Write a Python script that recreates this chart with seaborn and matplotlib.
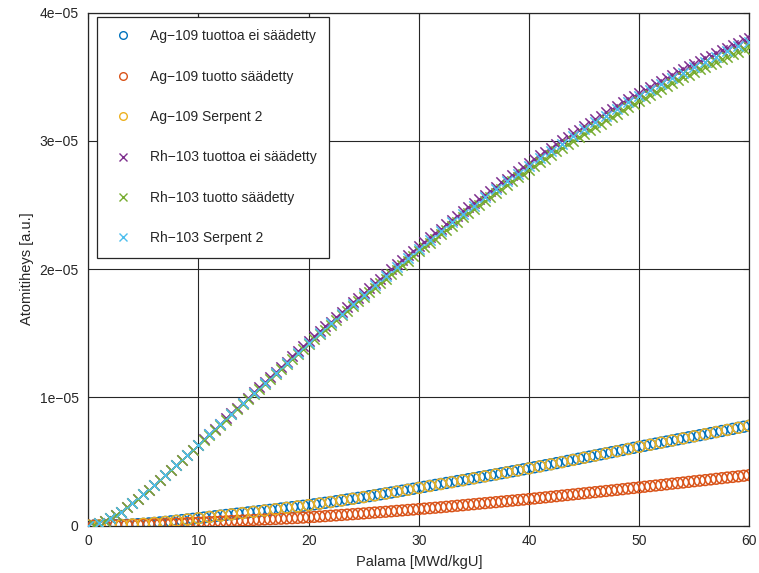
import matplotlib
matplotlib.use("Agg")
import matplotlib.pyplot as plt
from matplotlib.lines import Line2D
import seaborn as sns
import pandas as pd

# Burnup grids [MWd/kgU]: fine step for the yield models, unit step for Serpent 2
burnup_fine = [
    0.0, 0.5, 1.0, 1.5, 2.0, 2.5, 3.0, 3.5, 4.0, 4.5, 5.0, 5.5, 6.0, 6.5, 7.0, 7.5,
    8.0, 8.5, 9.0, 9.5, 10.0, 10.5, 11.0, 11.5, 12.0, 12.5, 13.0, 13.5, 14.0, 14.5,
    15.0, 15.5, 16.0, 16.5, 17.0, 17.5, 18.0, 18.5, 19.0, 19.5, 20.0, 20.5, 21.0,
    21.5, 22.0, 22.5, 23.0, 23.5, 24.0, 24.5, 25.0, 25.5, 26.0, 26.5, 27.0, 27.5,
    28.0, 28.5, 29.0, 29.5, 30.0, 30.5, 31.0, 31.5, 32.0, 32.5, 33.0, 33.5, 34.0,
    34.5, 35.0, 35.5, 36.0, 36.5, 37.0, 37.5, 38.0, 38.5, 39.0, 39.5, 40.0, 40.5,
    41.0, 41.5, 42.0, 42.5, 43.0, 43.5, 44.0, 44.5, 45.0, 45.5, 46.0, 46.5, 47.0,
    47.5, 48.0, 48.5, 49.0, 49.5, 50.0, 50.5, 51.0, 51.5, 52.0, 52.5, 53.0, 53.5,
    54.0, 54.5, 55.0, 55.5, 56.0, 56.5, 57.0, 57.5, 58.0, 58.5, 59.0, 59.5, 60.0,
]
burnup_serpent = [
    0, 1, 2, 3, 4, 5, 6, 7, 8, 9, 10, 11, 12, 13, 14, 15, 16, 17, 18, 19, 20,
    21, 22, 23, 24, 25, 26, 27, 28, 29, 30, 31, 32, 33, 34, 35, 36, 37, 38, 39, 40,
    41, 42, 43, 44, 45, 46, 47, 48, 49, 50, 51, 52, 53, 54, 55, 56, 57, 58, 59, 60,
]

# Atomic densities in units of 1e-5 [a.u.]
ag109_unadjusted = [
    0.0, 0.0001, 0.0005, 0.0012, 0.002, 0.0034, 0.005, 0.007, 0.009, 0.0115, 0.014,
    0.0175, 0.021, 0.025, 0.029, 0.0335, 0.038, 0.043, 0.048, 0.053, 0.058, 0.063,
    0.068, 0.073, 0.078, 0.083, 0.088, 0.093, 0.098, 0.103, 0.108, 0.113, 0.118,
    0.123, 0.128, 0.1335, 0.139, 0.144, 0.149, 0.1545, 0.160, 0.166, 0.172, 0.178,
    0.184, 0.1905, 0.197, 0.2035, 0.210, 0.2165, 0.223, 0.230, 0.237, 0.244, 0.251,
    0.258, 0.265, 0.2725, 0.280, 0.2875, 0.295, 0.3025, 0.310, 0.3175, 0.325, 0.3325,
    0.340, 0.3475, 0.355, 0.3625, 0.370, 0.3775, 0.385, 0.3925, 0.400, 0.408, 0.416,
    0.4235, 0.431, 0.439, 0.447, 0.455, 0.463, 0.471, 0.479, 0.4875, 0.496, 0.5045,
    0.513, 0.5215, 0.530, 0.5385, 0.547, 0.5555, 0.564, 0.5725, 0.581, 0.5895, 0.598,
    0.6065, 0.615, 0.623, 0.631, 0.6395, 0.648, 0.656, 0.664, 0.6725, 0.681, 0.689,
    0.697, 0.705, 0.713, 0.7215, 0.730, 0.738, 0.746, 0.7545, 0.763, 0.771, 0.779,
]
ag109_adjusted = [
    0.0, 0.00005, 0.0002, 0.0005, 0.001, 0.0015, 0.002, 0.003, 0.004, 0.005, 0.006,
    0.0075, 0.009, 0.0105, 0.012, 0.014, 0.016, 0.018, 0.020, 0.022, 0.024, 0.026,
    0.028, 0.030, 0.032, 0.034, 0.036, 0.038, 0.040, 0.042, 0.044, 0.046, 0.048,
    0.050, 0.052, 0.054, 0.056, 0.058, 0.060, 0.0625, 0.065, 0.068, 0.071, 0.074,
    0.077, 0.080, 0.083, 0.086, 0.089, 0.092, 0.095, 0.0985, 0.102, 0.105, 0.108,
    0.1115, 0.115, 0.1185, 0.122, 0.1255, 0.129, 0.1325, 0.136, 0.1395, 0.143, 0.147,
    0.151, 0.155, 0.159, 0.163, 0.167, 0.171, 0.175, 0.179, 0.183, 0.187, 0.191,
    0.195, 0.199, 0.203, 0.207, 0.2115, 0.216, 0.2205, 0.225, 0.2295, 0.234, 0.2385,
    0.243, 0.2475, 0.252, 0.2565, 0.261, 0.2655, 0.270, 0.2745, 0.279, 0.284, 0.289,
    0.2935, 0.298, 0.303, 0.308, 0.3125, 0.317, 0.322, 0.327, 0.3315, 0.336, 0.341,
    0.346, 0.3505, 0.355, 0.360, 0.365, 0.370, 0.375, 0.3795, 0.384, 0.389, 0.394,
]
ag109_serpent = [
    0.0, 0.0006, 0.0022, 0.0052, 0.0093, 0.0145, 0.0212, 0.029, 0.0378, 0.0475,
    0.0575, 0.0675, 0.0775, 0.0875, 0.0975, 0.1075, 0.1178, 0.128, 0.1385, 0.149,
    0.1598, 0.1715, 0.1835, 0.1962, 0.209, 0.2222, 0.236, 0.250, 0.2642, 0.2788,
    0.2935, 0.3085, 0.3235, 0.3385, 0.3535, 0.3688, 0.384, 0.3992, 0.4148, 0.4302,
    0.446, 0.4618, 0.478, 0.4948, 0.5118, 0.529, 0.546, 0.563, 0.580, 0.597, 0.614,
    0.6305, 0.647, 0.6635, 0.680, 0.6965, 0.713, 0.7295, 0.746, 0.7625, 0.779,
]
rh103_unadjusted = [
    0.0, 0.007, 0.020, 0.037, 0.057, 0.082, 0.110, 0.142, 0.175, 0.210, 0.245, 0.281,
    0.318, 0.355, 0.393, 0.431, 0.470, 0.510, 0.551, 0.591, 0.632, 0.673, 0.714,
    0.754, 0.795, 0.836, 0.877, 0.917, 0.958, 0.998, 1.039, 1.079, 1.120, 1.160,
    1.200, 1.240, 1.279, 1.319, 1.359, 1.398, 1.438, 1.477, 1.515, 1.553, 1.591,
    1.629, 1.667, 1.705, 1.742, 1.779, 1.817, 1.854, 1.891, 1.927, 1.964, 2.000,
    2.037, 2.073, 2.108, 2.144, 2.179, 2.214, 2.249, 2.283, 2.317, 2.351, 2.385,
    2.418, 2.451, 2.484, 2.516, 2.549, 2.581, 2.613, 2.644, 2.676, 2.707, 2.738,
    2.768, 2.798, 2.828, 2.858, 2.888, 2.917, 2.946, 2.975, 3.004, 3.032, 3.060,
    3.088, 3.115, 3.142, 3.169, 3.196, 3.223, 3.249, 3.275, 3.301, 3.326, 3.351,
    3.376, 3.400, 3.424, 3.447, 3.470, 3.493, 3.515, 3.537, 3.559, 3.581, 3.602,
    3.624, 3.645, 3.665, 3.686, 3.706, 3.726, 3.746, 3.765, 3.784, 3.803,
]
rh103_adjusted = [
    0.0, 0.007, 0.020, 0.037, 0.057, 0.082, 0.110, 0.142, 0.175, 0.210, 0.245, 0.281,
    0.318, 0.355, 0.393, 0.431, 0.470, 0.509, 0.549, 0.588, 0.627, 0.667, 0.707,
    0.747, 0.787, 0.827, 0.867, 0.906, 0.946, 0.985, 1.025, 1.064, 1.104, 1.143,
    1.182, 1.221, 1.260, 1.299, 1.338, 1.377, 1.416, 1.453, 1.491, 1.528, 1.565,
    1.602, 1.639, 1.675, 1.712, 1.748, 1.785, 1.820, 1.856, 1.892, 1.927, 1.962,
    1.997, 2.032, 2.067, 2.102, 2.138, 2.172, 2.206, 2.239, 2.273, 2.306, 2.339,
    2.371, 2.404, 2.436, 2.469, 2.500, 2.532, 2.563, 2.594, 2.624, 2.655, 2.685,
    2.715, 2.745, 2.775, 2.804, 2.833, 2.862, 2.890, 2.918, 2.946, 2.974, 3.001,
    3.029, 3.057, 3.083, 3.110, 3.136, 3.162, 3.188, 3.214, 3.239, 3.264, 3.289,
    3.314, 3.338, 3.361, 3.384, 3.407, 3.429, 3.451, 3.473, 3.495, 3.516, 3.537,
    3.558, 3.578, 3.598, 3.618, 3.638, 3.657, 3.677, 3.696, 3.716, 3.735,
]
rh103_serpent = [
    0.0, 0.020, 0.057, 0.110, 0.175, 0.245, 0.318, 0.393, 0.470, 0.550, 0.630,
    0.711, 0.792, 0.873, 0.953, 1.033, 1.113, 1.192, 1.271, 1.350, 1.428, 1.504,
    1.579, 1.654, 1.728, 1.802, 1.875, 1.947, 2.019, 2.090, 2.160, 2.229, 2.297,
    2.364, 2.430, 2.495, 2.559, 2.622, 2.684, 2.745, 2.805, 2.864, 2.922, 2.979,
    3.035, 3.090, 3.144, 3.197, 3.249, 3.300, 3.350, 3.397, 3.443, 3.488, 3.532,
    3.575, 3.617, 3.658, 3.698, 3.737, 3.775,
]

series_labels = [
    "Ag\u2212109 tuottoa ei säädetty",
    "Ag\u2212109 tuotto säädetty",
    "Ag\u2212109 Serpent 2",
    "Rh\u2212103 tuottoa ei säädetty",
    "Rh\u2212103 tuotto säädetty",
    "Rh\u2212103 Serpent 2",
]
x_ticks = [0, 10, 20, 30, 40, 50, 60]
y_ticks = [0, 1e-5, 2e-5, 3e-5, 4e-5]
y_tick_labels = ["0", "1e\u221205", "2e\u221205", "3e\u221205", "4e\u221205"]

colors = ["#0072BD", "#D95319", "#EDB120", "#7E2F8E", "#77AC30", "#4DBEEE"]
markers = ["o", "o", "o", "x", "x", "x"]
scale = 1e-5

sns.set_theme(style="white")
plt.rcParams["font.family"] = ["Liberation Sans", "DejaVu Sans"]
plt.rcParams["axes.unicode_minus"] = True

fig = plt.figure(figsize=(7.59, 5.73), dpi=100)
ax = fig.add_axes([0.1163, 0.0827, 0.8709, 0.8951])

series = [
    (burnup_fine, ag109_unadjusted),
    (burnup_fine, ag109_adjusted),
    (burnup_serpent, ag109_serpent),
    (burnup_fine, rh103_unadjusted),
    (burnup_fine, rh103_adjusted),
    (burnup_serpent, rh103_serpent),
]

for (xs, ys), label, color, marker in zip(series, series_labels, colors, markers):
    df = pd.DataFrame({"burnup": xs, "density": [v * scale for v in ys]})
    if marker == "o":
        sns.scatterplot(data=df, x="burnup", y="density", ax=ax, marker="o",
                        s=60, facecolor="none", edgecolor=color, linewidth=1.1,
                        legend=False, zorder=3)
    else:
        sns.scatterplot(data=df, x="burnup", y="density", ax=ax, marker="x",
                        s=55, color=color, linewidth=1.1, legend=False, zorder=3)

ax.set_xlim(0, 60)
ax.set_ylim(0, 4e-5)
ax.set_xticks(x_ticks)
ax.set_xticklabels([str(t) for t in x_ticks])
ax.set_yticks(y_ticks)
ax.set_yticklabels(y_tick_labels)
ax.tick_params(axis="both", direction="in", length=4, width=0.8, colors="#262626",
               labelsize=10, top=True, right=True)
ax.tick_params(axis="x", pad=6)
ax.tick_params(axis="y", pad=7)
for lab in ax.get_xticklabels() + ax.get_yticklabels():
    lab.set_color("#262626")

ax.grid(True, color="#262626", linewidth=0.8)
ax.set_axisbelow(True)
for sp in ax.spines.values():
    sp.set_visible(True)
    sp.set_color("#262626")
    sp.set_linewidth(0.9)

ax.set_xlabel("Palama [MWd/kgU]", fontsize=10.5, color="#262626", labelpad=5)
ax.set_ylabel("Atomitiheys [a.u.]", fontsize=10.5, color="#262626", labelpad=4)

handles = []
for label, color, marker in zip(series_labels, colors, markers):
    if marker == "o":
        h = Line2D([], [], linestyle="none", marker="o", markersize=5.5,
                   markerfacecolor="none", markeredgecolor=color,
                   markeredgewidth=1.0, label=label)
    else:
        h = Line2D([], [], linestyle="none", marker="x", markersize=6,
                   color=color, markeredgewidth=1.0, label=label)
    handles.append(h)

leg = ax.legend(handles=handles, loc="upper left", bbox_to_anchor=(0.013, 0.992),
                borderaxespad=0, frameon=True, fancybox=False, fontsize=10,
                labelspacing=1.9, borderpad=0.9, handlelength=2.0,
                handletextpad=0.9, numpoints=1)
leg.get_frame().set_edgecolor("#262626")
leg.get_frame().set_linewidth(0.9)
leg.get_frame().set_alpha(1.0)
leg.set_zorder(5)

fig.savefig("out.png", dpi=100)
